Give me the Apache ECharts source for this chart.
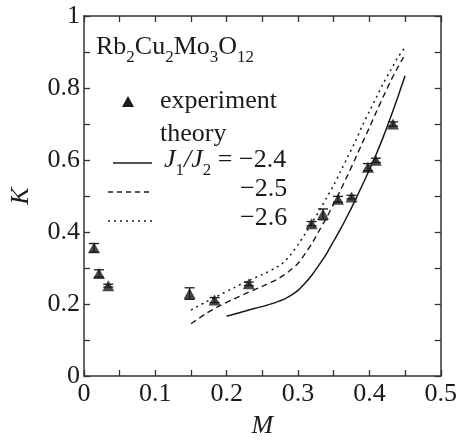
<!DOCTYPE html>
<html>
<head>
<meta charset="utf-8">
<script src="https://cdn.jsdelivr.net/npm/echarts@6/dist/echarts.min.js"></script>
<style>html,body{margin:0;padding:0;background:#fff;}#c{width:460px;height:444px;}</style>
</head>
<body>
<div id="c"></div>
<script>
// Experimental data
const expM = [0.014, 0.021, 0.034, 0.148, 0.183, 0.231, 0.319, 0.335, 0.356, 0.375, 0.398, 0.409, 0.433];
const expK = [0.356, 0.285, 0.251, 0.229, 0.211, 0.256, 0.423, 0.449, 0.491, 0.497, 0.580, 0.599, 0.700];
const expErr = [0.012, 0.010, 0.004, 0.016, 0.007, 0.005, 0.006, 0.015, 0.008, 0.005, 0.010, 0.006, 0.006];

// Theory curves
const thM24 = [0.20, 0.22, 0.24, 0.26, 0.28, 0.29, 0.30, 0.31, 0.32, 0.33, 0.34, 0.35, 0.36, 0.37, 0.38, 0.39, 0.40, 0.41, 0.42, 0.43, 0.44, 0.45];
const thK24 = [0.166, 0.177, 0.188, 0.199, 0.213, 0.224, 0.238, 0.258, 0.282, 0.310, 0.340, 0.375, 0.410, 0.448, 0.488, 0.530, 0.573, 0.618, 0.667, 0.720, 0.776, 0.834];
const thM25 = [0.15, 0.17, 0.19, 0.21, 0.23, 0.25, 0.27, 0.28, 0.29, 0.30, 0.31, 0.32, 0.33, 0.34, 0.35, 0.36, 0.37, 0.38, 0.39, 0.40, 0.41, 0.42, 0.43, 0.44, 0.448];
const thK25 = [0.145, 0.172, 0.195, 0.214, 0.232, 0.249, 0.268, 0.280, 0.295, 0.313, 0.340, 0.370, 0.405, 0.440, 0.478, 0.518, 0.560, 0.603, 0.647, 0.690, 0.735, 0.778, 0.820, 0.858, 0.886];
const thM26 = [0.15, 0.17, 0.19, 0.21, 0.23, 0.25, 0.27, 0.28, 0.29, 0.30, 0.31, 0.32, 0.33, 0.34, 0.35, 0.36, 0.37, 0.38, 0.39, 0.40, 0.41, 0.42, 0.43, 0.44, 0.45];
const thK26 = [0.183, 0.205, 0.225, 0.245, 0.264, 0.282, 0.302, 0.316, 0.338, 0.365, 0.395, 0.427, 0.460, 0.495, 0.530, 0.570, 0.610, 0.650, 0.695, 0.735, 0.775, 0.815, 0.850, 0.885, 0.913];

// Tick labels
const xTickLabels = ['0', '0.1', '0.2', '0.3', '0.4', '0.5'];
const yTickLabels = ['0', '0.2', '0.4', '0.6', '0.8', '1'];

const serif = '"Liberation Serif", "DejaVu Serif", serif';
const ink = '#1a1a1a';
const axisCol = '#333';

const pairs = (xs, ys) => xs.map((x, i) => [x, ys[i]]);

const chart = echarts.init(document.getElementById('c'));

const tickFmt = (labels) => (v) => {
  const s = String(+v.toFixed(2));
  return labels.indexOf(s) >= 0 ? s : '';
};

const axisCommon = {
  axisLine: { show: true, onZero: false, lineStyle: { color: axisCol, width: 1.5 } },
  axisTick: { show: true, inside: true, length: 6, lineStyle: { color: axisCol, width: 1.3 } },
  splitLine: { show: false }
};

chart.setOption({
  animation: false,
  backgroundColor: '#fff',
  grid: { left: 77, right: 15, top: 16, bottom: 61 },
  xAxis: [
    Object.assign({
      type: 'value', min: 0, max: 0.5, interval: 0.05, position: 'bottom',
      name: 'M', nameLocation: 'middle', nameGap: 37,
      nameTextStyle: { fontFamily: serif, fontStyle: 'italic', fontSize: 26, color: ink },
      axisLabel: { fontFamily: serif, fontSize: 26, color: ink, margin: 5, formatter: tickFmt(xTickLabels) }
    }, axisCommon),
    Object.assign({
      type: 'value', min: 0, max: 0.5, interval: 0.05, position: 'top', gridIndex: 0,
      axisLabel: { show: false }
    }, axisCommon)
  ],
  yAxis: [
    Object.assign({
      type: 'value', min: 0, max: 1, interval: 0.1, position: 'left',
      name: 'K', nameLocation: 'middle', nameGap: 50, nameRotate: 90,
      nameTextStyle: { fontFamily: serif, fontStyle: 'italic', fontSize: 26, color: ink },
      axisLabel: { fontFamily: serif, fontSize: 26, color: ink, margin: 4, formatter: tickFmt(yTickLabels) }
    }, axisCommon),
    Object.assign({
      type: 'value', min: 0, max: 1, interval: 0.1, position: 'right', gridIndex: 0,
      axisLabel: { show: false }
    }, axisCommon)
  ],
  series: [
    {
      name: '-2.4', type: 'line', data: pairs(thM24, thK24), showSymbol: false, smooth: 0.3,
      lineStyle: { color: ink, width: 1.5, type: 'solid' }
    },
    {
      name: '-2.5', type: 'line', data: pairs(thM25, thK25), showSymbol: false, smooth: 0.3,
      lineStyle: { color: ink, width: 1.4, type: [6, 4] }
    },
    {
      name: '-2.6', type: 'line', data: pairs(thM26, thK26), showSymbol: false, smooth: 0.3,
      lineStyle: { color: ink, width: 1.5, type: [2, 4] }
    },
    {
      name: 'err', type: 'custom',
      data: expM.map((m, i) => [m, expK[i] - expErr[i], expK[i] + expErr[i]]),
      renderItem: (params, api) => {
        const lo = api.coord([api.value(0), api.value(1)]);
        const hi = api.coord([api.value(0), api.value(2)]);
        const w = 5;
        const st = { stroke: ink, lineWidth: 1.3 };
        return {
          type: 'group',
          children: [
            { type: 'line', shape: { x1: lo[0], y1: lo[1], x2: hi[0], y2: hi[1] }, style: st },
            { type: 'line', shape: { x1: lo[0] - w, y1: lo[1], x2: lo[0] + w, y2: lo[1] }, style: st },
            { type: 'line', shape: { x1: hi[0] - w, y1: hi[1], x2: hi[0] + w, y2: hi[1] }, style: st }
          ]
        };
      },
      z: 3
    },
    {
      name: 'experiment', type: 'scatter', data: pairs(expM, expK),
      symbol: 'triangle', symbolSize: [12, 11],
      itemStyle: { color: ink }, z: 4
    }
  ],
  graphic: [
    {
      type: 'text', left: 96, top: 34,
      style: {
        text: '{m|Rb}{s|2}{m|Cu}{s|2}{m|Mo}{s|3}{m|O}{s|12}',
        fill: ink,
        rich: {
          m: { fontFamily: serif, fontSize: 26, fill: ink, lineHeight: 30, verticalAlign: 'bottom' },
          s: { fontFamily: serif, fontSize: 17, fill: ink, lineHeight: 30, verticalAlign: 'bottom', padding: [0, 0, -6, 0] }
        }
      }
    },
    {
      type: 'polygon', shape: { points: [[128, 96], [122, 107], [134, 107]] },
      style: { fill: ink }
    },
    {
      type: 'text', left: 160, top: 88,
      style: { text: 'experiment', fontFamily: serif, fontSize: 26, fill: ink }
    },
    {
      type: 'text', left: 160, top: 121,
      style: { text: 'theory', fontFamily: serif, fontSize: 26, fill: ink }
    },
    {
      type: 'line', shape: { x1: 113, y1: 163, x2: 152, y2: 163 },
      style: { stroke: ink, lineWidth: 1.5 }
    },
    {
      type: 'line', shape: { x1: 108, y1: 192, x2: 152, y2: 192 },
      style: { stroke: ink, lineWidth: 1.4, lineDash: [5, 4] }
    },
    {
      type: 'line', shape: { x1: 108, y1: 221, x2: 152, y2: 221 },
      style: { stroke: ink, lineWidth: 1.5, lineDash: [2, 4] }
    },
    {
      type: 'text', left: 164, top: 147,
      style: {
        text: '{i|J}{s|1}{i|/J}{s|2}{m| = \u22122.4}',
        fill: ink,
        rich: {
          i: { fontFamily: serif, fontStyle: 'italic', fontSize: 26, fill: ink, lineHeight: 30, verticalAlign: 'bottom' },
          s: { fontFamily: serif, fontSize: 17, fill: ink, lineHeight: 30, verticalAlign: 'bottom', padding: [0, 0, -6, 0] },
          m: { fontFamily: serif, fontSize: 26, fill: ink, lineHeight: 30, verticalAlign: 'bottom' }
        }
      }
    },
    {
      type: 'text', left: 240, top: 176,
      style: { text: '\u22122.5', fontFamily: serif, fontSize: 26, fill: ink }
    },
    {
      type: 'text', left: 240, top: 205,
      style: { text: '\u22122.6', fontFamily: serif, fontSize: 26, fill: ink }
    }
  ]
});
</script>
</body>
</html>
